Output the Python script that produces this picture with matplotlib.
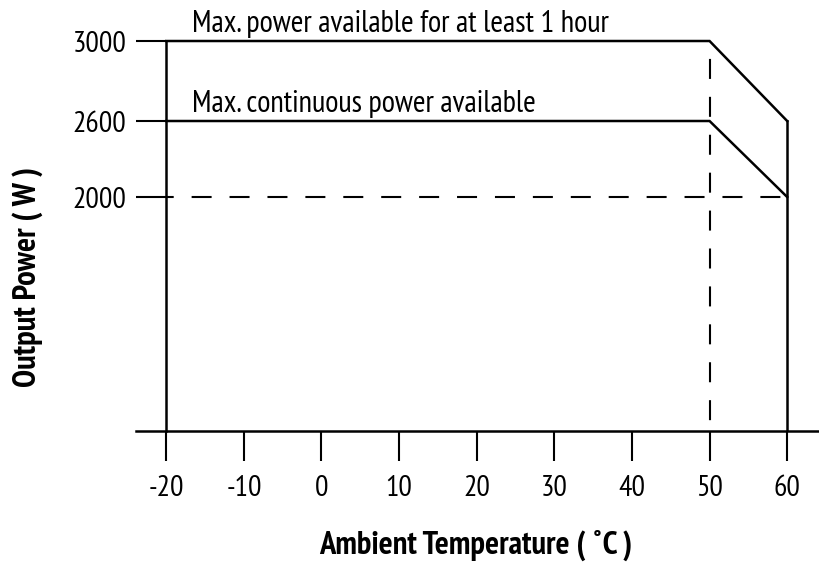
import numpy as np
import matplotlib.pyplot as plt
from matplotlib.ticker import FixedLocator

plt.rcParams['font.family'] = ['PT Sans Narrow', 'Open Sans Condensed',
                               'Liberation Sans', 'DejaVu Sans']
plt.rcParams['axes.unicode_minus'] = False

# derating curves (temperature in C, power in W)
temp_1h = [-20, 50, 60]
power_1h = [3000, 3000, 2600]
temp_cont = [-20, 50, 60]
power_cont = [2600, 2600, 2000]

x_ticks = [-20, -10, 0, 10, 20, 30, 40, 50, 60]
y_ticks = [2000, 2600, 3000]
derate_temp = 50
min_power = 2000
max_temp = 60

# the power axis is drawn schematically, not linear
p_vals = [0, 2000, 2600, 3000, 3400]
p_pos = [0, 234, 310, 390, 469]


def fwd(v):
    return np.interp(v, p_vals, p_pos)


def inv(p):
    return np.interp(p, p_pos, p_vals)


W, H = 819, 563
fig = plt.figure(figsize=(W / 100, H / 100), dpi=100)
ax = fig.add_axes([136 / W, 132 / H, 683 / W, 421 / H])
ax.set_yscale('function', functions=(fwd, inv))

lw = 1.8
ax.plot(temp_1h, power_1h, color='black', lw=lw, solid_joinstyle='miter')
ax.plot(temp_cont, power_cont, color='black', lw=lw, solid_joinstyle='miter')
ax.plot([max_temp, max_temp], [0, power_1h[-1]], color='black', lw=lw)

# dashed guide lines
dlw = 1.5
ax.plot([-20, max_temp], [min_power, min_power], color='black', lw=dlw,
        ls=(5.9, (9.6, 8.6)))
ax.plot([derate_temp, derate_temp], [power_1h[0], 0], color='black', lw=dlw,
        ls=(9.6, (9.6, 8.6)))

ax.annotate('Max. power available for at least 1 hour', xy=(-16.7, power_1h[0]),
            xytext=(0, 6.5), textcoords='offset points', fontsize=22,
            va='baseline', ha='left')
ax.annotate('Max. continuous power available', xy=(-16.7, power_cont[0]),
            xytext=(0, 6.5), textcoords='offset points', fontsize=22,
            va='baseline', ha='left')

ax.set_xlim(-23.9, 64.1)
ax.set_ylim(0, 3157)

for s in ['top', 'right']:
    ax.spines[s].set_visible(False)
ax.spines['left'].set_position(('data', -20))
ax.spines['left'].set_bounds(0, 3000)
ax.spines['left'].set_linewidth(lw)
ax.spines['bottom'].set_linewidth(lw)

ax.xaxis.set_major_locator(FixedLocator(x_ticks))
ax.yaxis.set_major_locator(FixedLocator(y_ticks))
ax.yaxis.set_minor_locator(FixedLocator([]))
ax.set_yticklabels([str(v) for v in y_ticks])
ax.tick_params(axis='x', direction='out', length=21.6, width=1.5, pad=10,
               labelsize=21.5)
ax.tick_params(axis='y', direction='out', length=21.6, width=1.5, pad=7,
               labelsize=21.5)

fig.text(476 / W, 1 - 545 / H, 'Ambient Temperature ( ˚C )', fontsize=23.5,
         fontweight='bold', ha='center', va='center')
fig.text(28 / W, 1 - 277 / H, 'Output Power ( W )', fontsize=23.5,
         fontweight='bold', ha='center', va='center', rotation=90)

fig.savefig('out.png', dpi=100)
